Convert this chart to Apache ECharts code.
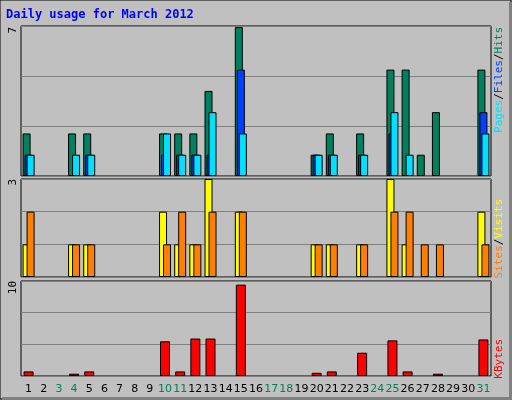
<!DOCTYPE html><html><head><meta charset="utf-8">
<script src="https://cdn.jsdelivr.net/npm/echarts@6/dist/echarts.min.js"></script>
<style>body{margin:0;background:#c0c0c0}#c{width:512px;height:400px}</style></head><body><div id="c"></div><script>
const days=[];for(let i=1;i<=31;i++)days.push(String(i));
const weekend=['3','4','10','11','17','18','24','25','31'];
const hits =[2,0,0,2,2,0,0,0,0,2,2,2,4,0,7,0,0,0,0,1,2,0,2,0,5,5,1,3,0,0,5];
const files=[1,0,0,0,1,0,0,0,0,1,1,1,1,0,5,0,0,0,0,1,1,0,1,0,2,0,0,0,0,0,3];
const pages=[1,0,0,1,1,0,0,0,0,2,1,1,3,0,2,0,0,0,0,1,1,0,1,0,3,1,0,0,0,0,2];
const sites=[1,0,0,1,1,0,0,0,0,2,1,1,3,0,2,0,0,0,0,1,1,0,1,0,3,1,0,0,0,0,2];
const visits=[2,0,0,1,1,0,0,0,0,1,2,1,2,0,2,0,0,0,0,1,1,0,1,0,2,2,1,1,0,0,1];
const kbytes=[0.5,0,0,0.25,0.5,0,0,0,0,3.8,0.5,4.1,4.1,0,10,0,0,0,0,0.35,0.5,0,2.55,0,3.9,0.5,0,0.25,0,0,4.0];
const nz=a=>a.map(v=>v===0?null:v);
const grids=[{left:21,right:21,top:26,height:150},{left:21,right:21,top:179,height:98},{left:21,right:21,top:281,height:95}];
const gl={show:true,lineStyle:{color:'#808080',width:1}};
function xa(i,show){return {type:'category',gridIndex:i,data:days,axisLine:{show:false},axisTick:{show:false},
 axisLabel:{show:show,interval:0,fontFamily:'DejaVu Sans',fontSize:11,margin:8,color:function(v){return weekend.includes(v)?'#00805c':'#000'}}};}
function ya(i,max){return {type:'value',gridIndex:i,min:0,max:max,interval:max/3,axisLabel:{show:false},axisLine:{show:false},axisTick:{show:false},splitLine:gl};}
const bs={borderColor:'#000',borderWidth:1};
function bar(name,data,color,gi,w,gap){return {name,type:'bar',xAxisIndex:gi,yAxisIndex:gi,data:nz(data),barWidth:w,barGap:gap,itemStyle:Object.assign({color},bs),animation:false};}
const F='11px "DejaVu Sans Mono"';
function vt(x,y,text,extra){return {type:'text',x:x,y:y,rotation:Math.PI/2,style:Object.assign({text:text,font:F,align:'right',verticalAlign:'middle'},extra)};}
const chart=echarts.init(document.getElementById('c'));
chart.setOption({animation:false,backgroundColor:'#c0c0c0',
 grid:grids.map(g=>Object.assign({show:true,backgroundColor:'#c0c0c0',borderColor:'#000',borderWidth:1},g)),
 xAxis:[xa(0,false),xa(1,false),xa(2,true)],
 yAxis:[ya(0,7.05),ya(1,3.0),ya(2,10.4)],
 series:[bar('Hits',hits,'#00805c',0,8,'-75%'),bar('Files',files,'#0040ff',0,8,'-75%'),bar('Pages',pages,'#00e0ff',0,8,'-75%'),
  bar('Sites',sites,'#ffff00',1,8,'-50%'),bar('Visits',visits,'#ff8000',1,8,'-50%'),
  bar('KBytes',kbytes,'#ff0000',2,10,'0%')],
 graphic:[
  {type:'rect',shape:{x:0,y:0,width:511,height:399},style:{fill:null,stroke:'#000',lineWidth:1}},
  {type:'rect',shape:{x:509,y:2,width:3,height:398},style:{fill:'#808080'}},
  {type:'rect',shape:{x:2,y:397,width:510,height:3},style:{fill:'#808080'}},
  {type:'text',left:6,top:9,style:{text:'Daily usage for March 2012',font:'bold 12px "DejaVu Sans Mono"',fill:'#0000ff'}},
  vt(13,27,'7',{fill:'#000'}),vt(13,179,'3',{fill:'#000'}),vt(13,281,'10',{fill:'#000'}),
  vt(499,27,'{p|Pages}{s|/}{f|Files}{s|/}{h|Hits}',{rich:{p:{fill:'#00e0ff',font:F},f:{fill:'#0040ff',font:F},h:{fill:'#00805c',font:F},s:{fill:'#000',font:F}}}),
  vt(499,199,'{a|Sites}{s|/}{b|Visits}',{rich:{a:{fill:'#ff8000',font:F},b:{fill:'#ffff00',font:F},s:{fill:'#000',font:F}}}),
  vt(499,339,'KBytes',{fill:'#ff0000'})
 ]});
</script></body></html>
